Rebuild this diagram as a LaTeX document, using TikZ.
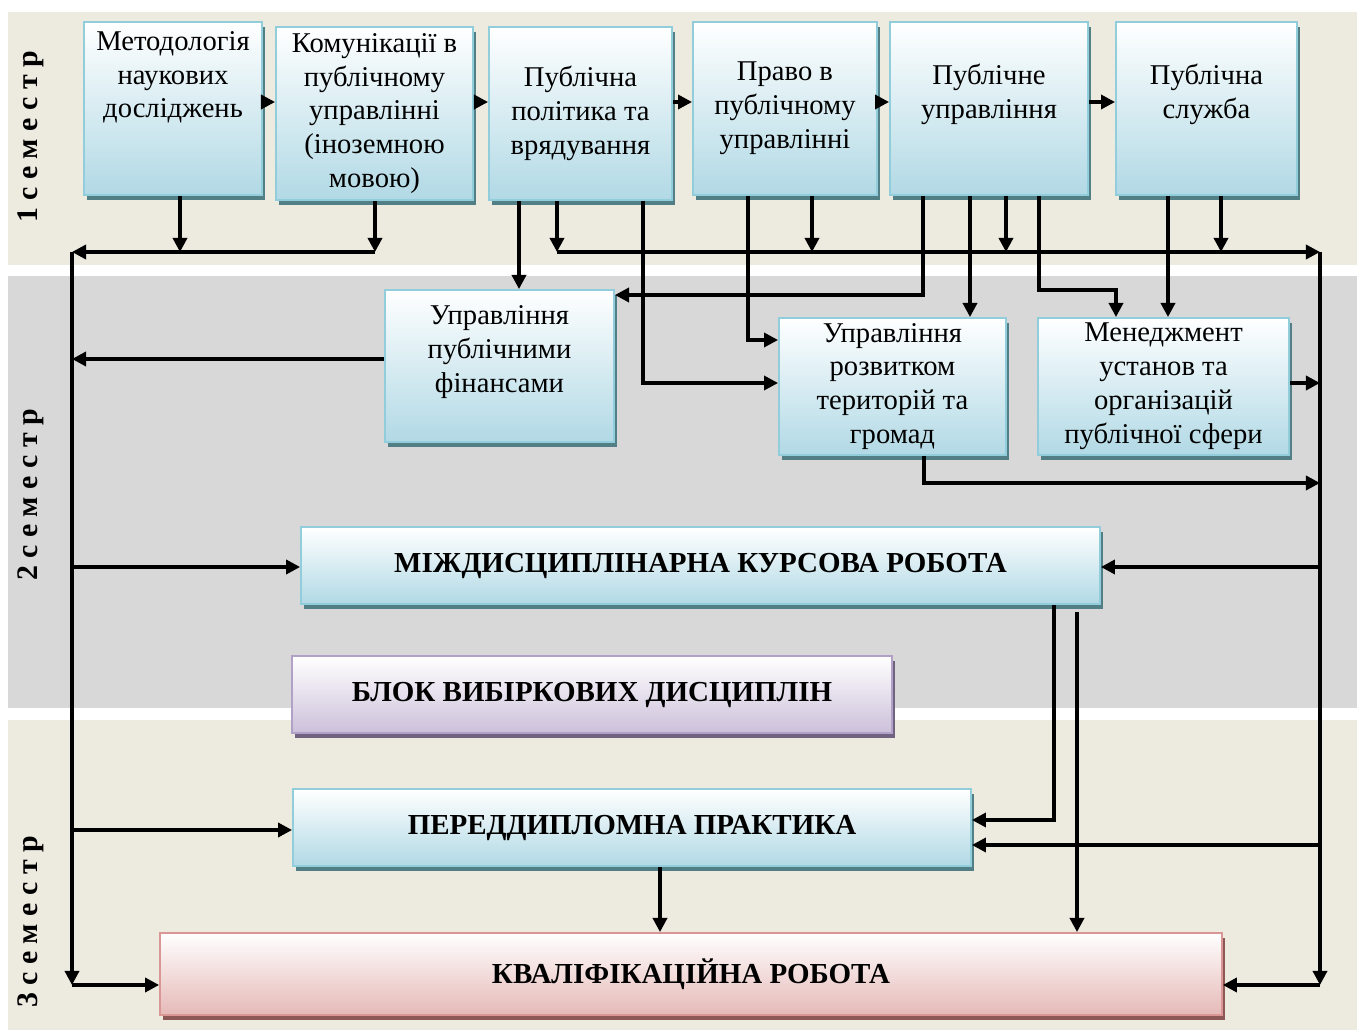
\documentclass[tikz,border=0pt]{standalone}
\usepackage{fontspec}
\setmainfont{Liberation Serif}
\usetikzlibrary{arrows.meta,shadows}

\definecolor{bandbeige}{RGB}{237,234,224}
\definecolor{bandgray}{RGB}{216,216,216}
\definecolor{boxblue}{RGB}{177,217,229}
\definecolor{edgeblue}{RGB}{146,205,220}
\definecolor{shadeblue}{RGB}{82,126,134}
\definecolor{boxlilac}{RGB}{204,192,218}
\definecolor{edgelilac}{RGB}{178,161,199}
\definecolor{shadelilac}{RGB}{112,98,128}
\definecolor{boxrose}{RGB}{229,185,183}
\definecolor{edgerose}{RGB}{217,150,148}
\definecolor{shaderose}{RGB}{140,88,86}

\begin{document}
\begin{tikzpicture}[x=0.02cm, y=-0.02cm,
  plate/.style={line width=1.1pt, top color=white, align=center, inner xsep=2pt, inner ysep=0pt},
  subj/.style={plate, draw=edgeblue, bottom color=boxblue,
    drop shadow={shadow xshift=1.5pt, shadow yshift=-2.8pt, fill=shadeblue, opacity=1},
    font=\fontsize{16.3}{19.3}\selectfont},
  wide/.style={subj, font=\bfseries\fontsize{16.5}{19}\selectfont, minimum height=1.54cm},
  elect/.style={plate, draw=edgelilac, bottom color=boxlilac,
    drop shadow={shadow xshift=1.5pt, shadow yshift=-2.8pt, fill=shadelilac, opacity=1},
    font=\bfseries\fontsize{16.5}{19}\selectfont, minimum height=1.54cm},
  final/.style={plate, draw=edgerose, bottom color=boxrose,
    drop shadow={shadow xshift=1.5pt, shadow yshift=-2.8pt, fill=shaderose, opacity=1},
    font=\bfseries\fontsize{16.5}{19}\selectfont, minimum height=1.64cm},
  arr/.style={-{Triangle[length=8pt,width=8pt]}, line width=1.9pt},
  sem/.style={rotate=90, font=\bfseries\fontsize{17}{20}\selectfont}]
  \useasboundingbox (0,0) rectangle (1357,1030);
  \fill[bandbeige] (8,12) rectangle (1357,265);
  \fill[bandgray] (8,276) rectangle (1357,708);
  \fill[bandbeige] (8,720) rectangle (1357,1030);

  \node[sem] (s1) at (31,137) {1 с е м е с т р};
  \node[sem] (s2) at (31,495) {2 с е м е с т р};
  \node[sem] (s3) at (31,922) {3 с е м е с т р};

  \node[subj, minimum width=3.56cm, minimum height=3.46cm] (met) at (173,108.5)
    {Методологія\\наукових\\досліджень\\~\\~};
  \node[subj, minimum width=3.94cm, minimum height=3.46cm] (kom) at (374.5,113.5)
    {Комунікації в\\публічному\\управлінні\\(іноземною\\мовою)};
  \node[subj, minimum width=3.66cm, minimum height=3.46cm] (pol) at (580.5,113.5)
    {Публічна\\політика та\\врядування};
  \node[subj, minimum width=3.68cm, minimum height=3.46cm] (prav) at (785,108.5)
    {Право в\\публічному\\управлінні};
  \node[subj, minimum width=3.96cm, minimum height=3.46cm] (pupr) at (989,108.5)
    {Публічне\\управління\\~};
  \node[subj, minimum width=3.62cm, minimum height=3.46cm] (sluz) at (1206.5,108.5)
    {Публічна\\служба\\~};
  \node[subj, minimum width=4.58cm, minimum height=3.04cm] (fin) at (499.5,366)
    {Управління\\публічними\\фінансами\\~};
  \node[subj, minimum width=4.54cm, minimum height=2.74cm] (ter) at (892.5,386.5)
    {Управління\\розвитком\\територій та\\громад};
  \node[subj, minimum width=5.02cm, minimum height=2.74cm] (men) at (1163.5,386.5)
    {Менеджмент\\установ та\\організацій\\публічної сфери};
  \node[wide, minimum width=15.98cm] (kurs) at (700.5,565.5) {МІЖДИСЦИПЛІНАРНА КУРСОВА РОБОТА};
  \node[elect, minimum width=12cm] (blok) at (592,694.5) {БЛОК ВИБІРКОВИХ ДИСЦИПЛІН};
  \node[wide, minimum width=13.56cm] (prak) at (632,827.5) {ПЕРЕДДИПЛОМНА ПРАКТИКА};
  \node[final, minimum width=21.24cm] (kval) at (691,974) {КВАЛІФІКАЦІЙНА РОБОТА};

  \coordinate (lt) at (72,252);
  \coordinate (lb) at (72,985);
  \coordinate (rt) at (1320,252);
  \coordinate (rb) at (1320,985);

  \draw[arr] (met.east |- 0,102) -- (kom.west |- 0,102);
  \draw[arr] (kom.east |- 0,102) -- (pol.west |- 0,102);
  \draw[arr] (pol.east |- 0,102) -- (prav.west |- 0,102);
  \draw[arr] (prav.east |- 0,102) -- (pupr.west |- 0,102);
  \draw[arr] (pupr.east |- 0,102) -- (sluz.west |- 0,102);

  \draw[arr] (180,0 |- met.south) -- (180,252);
  \draw[arr] (375,0 |- kom.south) -- (375,252);
  \draw[arr] (375,252) -- (lt);
  \draw[arr] (lt) -- (lb);
  \draw[arr] (lb) -- (kval.west |- lb);

  \draw[arr] (519,0 |- pol.south) -- (519,0 |- fin.north);
  \draw[arr] (557,0 |- pol.south) -- (557,252);
  \draw[arr] (643,0 |- pol.south) |- (ter.west |- 0,383);
  \draw[arr] (748,0 |- prav.south) |- (ter.west |- 0,340);
  \draw[arr] (812,0 |- prav.south) -- (812,252);
  \draw[arr] (923,0 |- pupr.south) |- (fin.east |- 0,295);
  \draw[arr] (970,0 |- pupr.south) -- (970,0 |- ter.north);
  \draw[arr] (1006,0 |- pupr.south) -- (1006,252);
  \draw[arr] (1039,0 |- pupr.south) -- (1039,290) -| (1116,0 |- men.north);
  \draw[arr] (1168,0 |- sluz.south) -- (1168,0 |- men.north);
  \draw[arr] (1221,0 |- sluz.south) -- (1221,252);
  \draw[arr] (557,252) -- (rt);
  \draw[arr] (rt) -- (rb);
  \draw[arr] (rb) -- (kval.east |- rb);

  \draw[arr] (fin.west |- 0,359) -- (72,359);
  \draw[arr] (men.east |- 0,383) -- (1320,383);
  \draw[arr] (924,0 |- ter.south) |- (1320,483);

  \draw[arr] (72,567) -- (kurs.west |- 0,567);
  \draw[arr] (1320,567) -- (kurs.east |- 0,567);
  \draw[arr] (1054,0 |- kurs.south) |- (prak.east |- 0,820);
  \draw[arr, shorten <=4pt] (1077,0 |- kurs.south) -- (1077,0 |- kval.north);
  \draw[arr] (1320,845) -- (prak.east |- 0,845);
  \draw[arr] (72,830) -- (prak.west |- 0,830);
  \draw[arr] (660,0 |- prak.south) -- (660,0 |- kval.north);
\end{tikzpicture}
\end{document}
